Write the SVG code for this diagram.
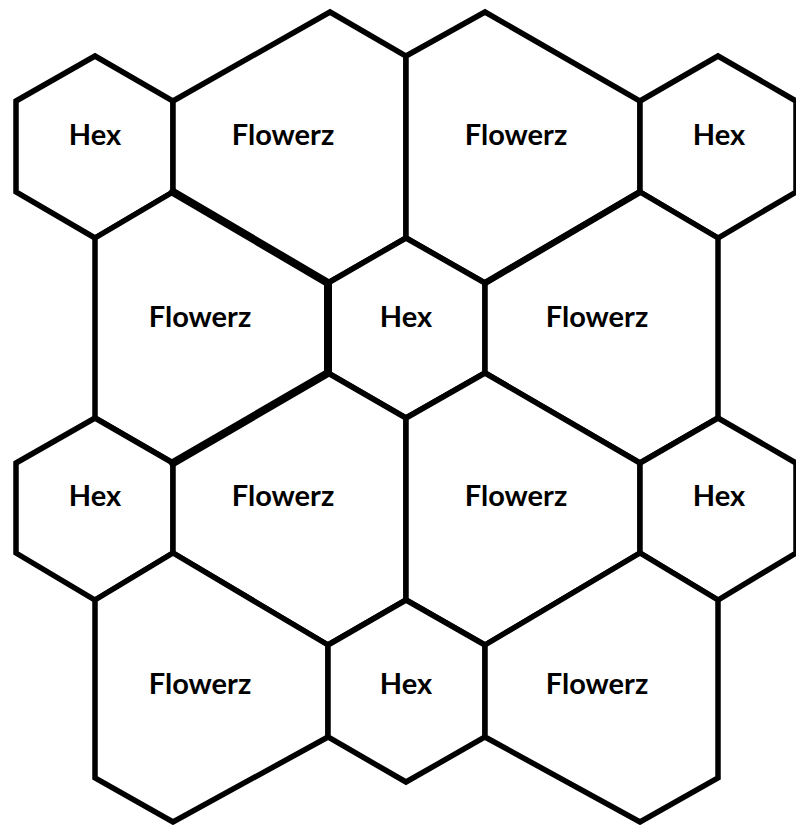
<svg xmlns="http://www.w3.org/2000/svg" width="796" height="825" viewBox="0 0 796 825">
<style>
.cell{fill:#fff;stroke:#000;stroke-width:5.5;stroke-linejoin:miter}
.thick{fill:none;stroke:#000;stroke-width:8;stroke-linecap:round}
.mid{fill:none;stroke:#000;stroke-width:6.5;stroke-linecap:round}
.lbl{font-family:Lato,"Liberation Sans",sans-serif;font-weight:bold;font-size:29px;fill:#000;text-anchor:middle}
</style>
<rect width="796" height="825" fill="#fff"/>
<g id="hex1"><polygon class="cell" points="16,101 95,56 173,101 173,192 95,238 16,192"/><text class="lbl" x="95" y="145">Hex</text></g>
<g id="flowerz1"><polygon class="cell" points="173,101 330,12 406,56 406,238 328,283 173,192"/><text class="lbl" x="283" y="145">Flowerz</text></g>
<g id="flowerz2"><polygon class="cell" points="406,56 485,12 640,101 640,192 485,283 406,238"/><text class="lbl" x="516" y="145">Flowerz</text></g>
<g id="hex2"><polygon class="cell" points="640,101 718,56 796,101 796,192 718,238 640,192"/><text class="lbl" x="719" y="145">Hex</text></g>
<g id="flowerz3"><polygon class="cell" points="95,238 173,192 328,283 328,373 173,463 95,418"/><text class="lbl" x="200" y="327">Flowerz</text></g>
<g id="hex3"><polygon class="cell" points="328,283 406,238 485,283 485,373 406,418 328,373"/><text class="lbl" x="406" y="327">Hex</text></g>
<g id="flowerz4"><polygon class="cell" points="485,283 640,192 718,238 718,418 640,463 485,373"/><text class="lbl" x="597" y="327">Flowerz</text></g>
<g id="hex4"><polygon class="cell" points="16,463 95,418 173,463 173,553 95,600 16,553"/><text class="lbl" x="95" y="506">Hex</text></g>
<g id="flowerz5"><polygon class="cell" points="173,463 328,373 406,418 406,600 328,645 173,553"/><text class="lbl" x="283" y="506">Flowerz</text></g>
<g id="flowerz6"><polygon class="cell" points="406,418 485,373 640,463 640,553 485,645 406,600"/><text class="lbl" x="516" y="506">Flowerz</text></g>
<g id="hex5"><polygon class="cell" points="640,463 718,418 796,463 796,553 718,600 640,553"/><text class="lbl" x="719" y="506">Hex</text></g>
<g id="flowerz7"><polygon class="cell" points="95,600 173,553 328,645 328,737 173,822 95,778"/><text class="lbl" x="200" y="694">Flowerz</text></g>
<g id="hex6"><polygon class="cell" points="328,645 406,600 485,645 485,737 406,782 328,737"/><text class="lbl" x="406" y="694">Hex</text></g>
<g id="flowerz8"><polygon class="cell" points="485,645 640,553 718,600 718,778 640,822 485,737"/><text class="lbl" x="597" y="694">Flowerz</text></g>
<g id="connectors">
<path class="thick" d="M173,192 L328,283 L328,373 L173,463"/>
<path class="mid" d="M485,283 L640,192"/>
</g>
</svg>
